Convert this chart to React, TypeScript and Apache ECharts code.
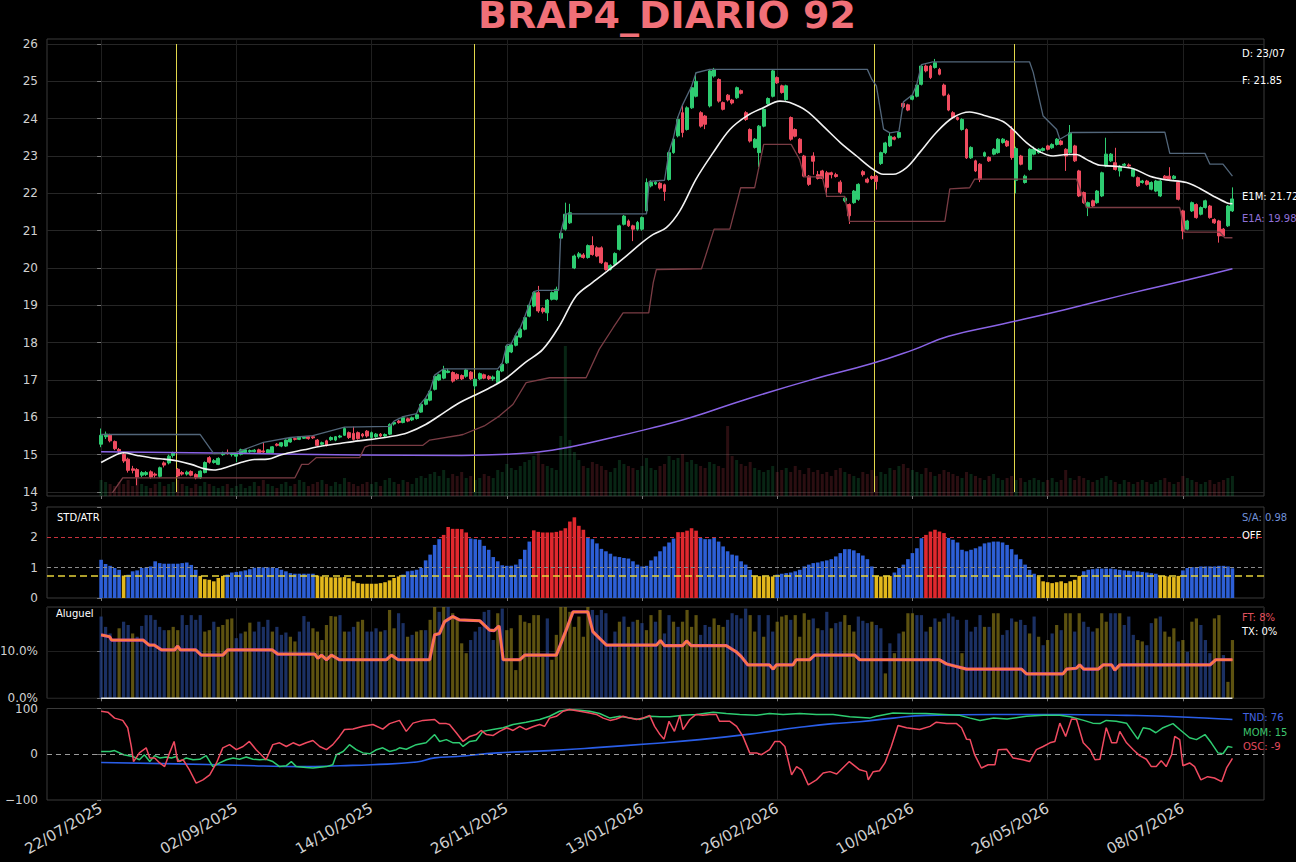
import React, { useEffect, useRef } from "react";
import * as echarts from "echarts";

const FONT = '"DejaVu Sans", "Liberation Sans", sans-serif';

// ---------- x axis (trading-day index) ----------
const tickBars = [0, 30, 60, 90, 120, 150, 180, 210, 240];
const tickDates = ["22/07/2025", "02/09/2025", "14/10/2025", "26/11/2025", "13/01/2026", "26/02/2026", "10/04/2026", "26/05/2026", "08/07/2026"];

// ---------- price panel: [open, close, low, high] ----------
const priceBars = [
  [15.28,15.52,15.20,15.70],[15.48,15.55,15.42,15.62],[15.53,15.37,15.33,15.56],[15.35,15.16,15.12,15.38],[15.14,15.10,15.04,15.18],[15.01,14.83,14.78,15.05],[14.88,14.58,14.52,14.92],[14.62,14.58,14.50,14.70],[14.60,14.40,14.18,14.64],[14.45,14.52,14.40,14.56],
  [14.47,14.52,14.43,14.56],[14.54,14.40,14.36,14.58],[14.48,14.45,14.38,14.52],[14.42,14.65,14.38,14.68],[14.78,14.72,14.66,14.82],[14.78,14.96,14.74,15.00],[14.98,15.04,14.92,15.08],[14.61,14.43,14.40,14.64],[14.52,14.48,14.44,14.56],[14.48,14.53,14.44,14.57],
  [14.55,14.45,14.42,14.58],[14.47,14.38,14.34,14.50],[14.38,14.56,14.35,14.58],[14.52,14.79,14.50,14.82],[14.92,14.80,14.76,14.96],[14.79,14.84,14.76,14.88],[14.74,14.90,14.72,14.93],[15.00,15.04,14.97,15.08],[15.06,15.03,15.00,15.14],[15.00,15.02,14.95,15.06],
  [14.96,15.02,14.80,15.05],[15.01,15.13,14.98,15.16],[15.06,15.13,15.03,15.15],[15.08,15.11,15.05,15.14],[15.08,15.12,15.06,15.15],[15.13,15.05,15.02,15.16],[15.10,15.07,15.03,15.33],[15.04,15.13,15.02,15.15],[15.05,15.21,15.03,15.23],[15.28,15.25,15.22,15.31],
  [15.23,15.32,15.20,15.34],[15.23,15.39,15.21,15.41],[15.34,15.43,15.32,15.46],[15.43,15.41,15.38,15.46],[15.41,15.48,15.39,15.50],[15.44,15.47,15.42,15.50],[15.48,15.43,15.40,15.50],[15.48,15.45,15.42,15.51],[15.39,15.25,15.22,15.42],[15.28,15.32,15.25,15.35],
  [15.37,15.25,15.22,15.40],[15.40,15.46,15.37,15.49],[15.39,15.48,15.36,15.50],[15.47,15.50,15.44,15.53],[15.52,15.70,15.50,15.74],[15.59,15.46,15.42,15.62],[15.57,15.41,15.38,15.75],[15.59,15.43,15.40,15.62],[15.55,15.50,15.46,15.58],[15.63,15.50,15.46,15.66],
  [15.46,15.59,15.43,15.62],[15.48,15.55,15.45,15.58],[15.55,15.50,15.47,15.58],[15.50,15.54,15.47,15.57],[15.55,15.81,15.52,15.84],[15.82,15.86,15.78,15.90],[15.90,15.86,15.83,15.93],[15.86,15.99,15.84,16.02],[15.96,15.90,15.87,15.99],[15.93,15.99,15.90,16.02],
  [15.97,16.07,15.94,16.10],[16.14,16.35,16.12,16.38],[16.35,16.49,16.32,16.52],[16.46,16.70,16.43,16.73],[16.75,17.10,16.72,17.13],[17.00,17.14,16.97,17.17],[17.05,17.27,17.02,17.38],[17.20,17.24,17.18,17.30],[17.20,16.97,16.93,17.23],[17.15,17.03,17.00,17.18],
  [17.12,17.03,17.00,17.15],[17.10,17.27,17.06,17.30],[17.21,17.03,17.00,17.24],[16.84,17.02,16.75,17.05],[17.03,17.17,17.00,17.20],[17.14,17.05,17.02,17.17],[17.10,17.03,17.00,17.13],[17.03,17.08,16.98,17.12],[16.93,17.24,16.90,17.27],[17.24,17.42,17.21,17.45],
  [17.46,17.91,17.43,17.94],[17.75,17.94,17.72,17.97],[17.93,18.18,17.90,18.22],[18.15,18.36,18.12,18.40],[18.36,18.67,18.33,18.70],[18.71,19.00,18.68,19.03],[18.98,19.34,18.95,19.37],[19.34,18.85,18.80,19.52],[18.92,18.83,18.78,18.95],[18.80,19.14,18.58,19.17],
  [19.16,19.34,19.13,19.37],[19.16,19.43,19.13,19.50],[20.80,20.93,20.77,20.97],[21.04,21.44,21.00,21.75],[21.21,21.48,21.18,21.72],[20.00,20.32,19.97,20.36],[20.30,20.38,20.25,20.43],[20.35,20.28,20.25,20.40],[20.28,20.60,20.25,20.63],[20.60,20.36,20.33,20.85],
  [20.54,20.32,20.29,20.58],[20.54,20.14,20.11,20.58],[20.14,19.96,19.93,20.17],[19.96,20.07,19.93,20.10],[20.10,20.39,20.07,20.42],[20.50,21.13,20.47,21.16],[21.17,21.39,21.14,21.42],[21.26,21.13,21.10,21.30],[21.13,21.04,20.72,21.16],[21.04,21.22,21.00,21.26],
  [21.04,21.35,21.00,21.38],[21.53,22.29,21.50,22.40],[22.20,22.29,22.16,22.35],[22.25,22.30,22.22,22.33],[22.27,22.14,22.10,22.30],[22.23,22.05,21.80,22.26],[22.37,23.09,22.34,23.12],[23.09,23.45,23.06,23.50],[23.54,23.98,23.50,24.05],[24.16,23.63,23.50,24.37],
  [23.71,24.29,23.68,24.33],[24.29,24.83,24.26,24.87],[24.60,25.00,24.57,25.23],[24.16,23.80,23.76,24.20],[24.07,23.85,23.72,24.10],[24.34,25.28,24.30,25.32],[25.14,25.32,25.10,25.36],[25.05,24.47,24.43,25.08],[24.43,24.25,24.22,24.46],[24.63,24.50,24.46,24.66],
  [24.50,24.42,24.38,24.53],[24.56,24.83,24.53,24.86],[24.75,24.68,24.65,24.78],[24.16,23.98,23.94,24.20],[23.71,23.40,23.36,23.74],[23.23,23.45,23.20,23.48],[23.09,23.80,22.70,23.83],[23.80,24.25,23.77,24.28],[24.40,24.54,24.37,24.57],[24.60,25.28,24.57,25.32],
  [25.10,24.96,24.93,25.13],[24.88,24.70,24.67,24.91],[24.51,24.88,24.48,24.91],[24.03,23.45,23.41,24.06],[23.71,23.53,23.50,23.74],[23.45,23.09,23.06,23.48],[23.00,22.46,22.43,23.03],[22.46,22.24,22.20,22.49],[23.00,22.86,22.50,23.10],[22.50,22.40,22.37,22.60],
  [22.60,22.40,22.37,22.63],[22.55,22.16,21.90,22.60],[22.55,22.50,22.40,22.58],[22.50,22.45,22.42,22.55],[22.30,22.03,21.98,22.35],[21.80,21.87,21.76,21.90],[21.70,21.40,21.18,21.73],[21.75,22.06,21.72,22.09],[21.84,22.24,21.80,22.27],[22.58,22.50,22.45,22.62],
  [22.38,22.30,22.27,22.42],[22.45,22.40,22.36,22.48],[22.46,22.32,22.10,22.49],[22.80,23.09,22.76,23.12],[23.09,23.35,23.05,23.38],[23.27,23.53,23.24,23.62],[23.50,23.45,23.42,23.53],[23.50,23.63,23.47,23.66],[24.41,24.32,24.28,24.45],[24.37,24.23,24.20,24.40],
  [24.52,24.61,24.49,24.64],[24.60,24.90,24.57,24.93],[24.92,25.41,24.89,25.45],[25.41,25.28,25.24,25.45],[25.41,25.10,25.06,25.44],[25.37,25.50,25.34,25.60],[25.32,25.19,25.16,25.36],[24.90,24.63,24.60,24.94],[24.63,24.23,24.20,24.67],[24.16,24.03,24.00,24.20],
  [24.03,23.98,23.95,24.06],[23.71,23.98,23.68,24.01],[23.71,22.95,22.92,23.74],[22.95,23.23,22.92,23.26],[22.87,22.60,22.57,22.90],[22.78,22.37,22.30,22.81],[23.00,23.09,22.97,23.12],[22.96,22.87,22.84,22.99],[23.05,23.18,23.02,23.21],[23.09,23.45,23.06,23.48],
  [23.36,23.45,23.33,23.48],[23.40,23.27,23.24,23.43],[23.71,22.96,22.90,23.80],[22.35,23.20,22.00,23.25],[23.00,22.78,22.75,23.03],[22.29,22.46,22.26,22.50],[22.64,23.18,22.61,23.21],[23.05,23.18,23.02,23.25],[23.09,23.18,23.06,23.21],[23.15,23.20,23.12,23.23],
  [23.27,23.18,23.15,23.30],[23.22,23.31,23.19,23.34],[23.31,23.45,23.28,23.48],[23.40,23.31,23.28,23.43],[23.18,23.00,22.60,23.21],[23.09,23.62,23.06,23.83],[23.27,22.87,22.84,23.30],[22.60,21.93,21.90,22.63],[22.02,21.75,21.72,22.05],[21.62,21.75,21.39,21.78],
  [21.80,21.66,21.63,21.83],[21.75,22.06,21.72,22.09],[21.93,22.55,21.90,22.58],[22.73,23.05,22.70,23.49],[22.87,23.05,22.84,23.08],[22.82,22.64,22.61,23.22],[22.60,22.73,22.45,22.76],[22.75,22.78,22.72,22.81],[22.76,22.73,22.70,22.80],[22.46,22.64,22.43,22.67],
  [22.42,22.20,22.17,22.45],[22.29,22.33,22.26,22.36],[22.33,22.24,22.21,22.36],[22.11,22.29,22.08,22.32],[22.06,22.33,22.03,22.36],[21.93,22.33,21.90,22.36],[22.46,22.40,22.37,22.49],[22.46,22.38,22.35,22.70],[22.40,22.46,22.37,22.49],[22.29,21.84,21.81,22.32],
  [21.53,20.99,20.77,21.56],[21.04,21.26,21.01,21.29],[21.53,21.75,21.50,21.78],[21.70,21.35,21.32,21.73],[21.44,21.62,21.41,21.65],[21.62,21.80,21.59,21.83],[21.66,21.35,21.32,21.69],[21.30,21.21,21.18,21.33],[21.26,20.86,20.68,21.29],[21.04,20.86,20.83,21.07],
  [21.13,21.66,21.10,21.69],[21.53,21.85,21.50,22.16],
];

const volumes = [
  8,7,6,5,7,6,8,5,9,6, 5,4,6,7,5,6,7,8,6,5, 4,6,5,7,6,5,4,5,6,4,
  5,6,4,5,7,5,8,6,5,4, 6,7,5,6,8,7,5,6,7,8, 6,5,7,6,9,7,6,5,6,7,
  6,7,5,8,9,7,6,8,7,6, 9,10,9,11,12,10,13,9,11,10, 12,9,10,8,9,11,10,9,13,12,
  16,14,13,15,17,18,20,22,16,15, 14,13,30,75,28,22,18,15,14,17, 16,15,13,12,14,18,16,15,14,13,
  15,19,14,13,15,16,20,18,19,21, 17,18,16,15,14,17,16,15,14,35, 20,18,16,15,17,14,13,12,13,15,
  12,13,14,12,15,13,11,14,12,13, 11,12,10,13,14,12,11,10,9,12, 11,13,10,12,11,14,13,15,16,14,
  13,12,11,14,12,10,11,13,12,11, 10,9,12,11,10,9,8,10,11,9, 8,9,10,8,9,7,8,9,8,7,
  8,9,7,8,13,9,8,10,9,8, 7,8,9,10,8,7,6,8,7,6, 7,8,7,6,7,8,9,7,6,7,
  10,9,8,7,6,7,8,6,7,8,9,10,
];

const e1m = [[0,14.79],[2,14.92],[5,15.05],[8,14.98],[12,14.9],[14,14.88],[17,14.83],[20,14.74],[23,14.62],[25,14.59],[28,14.67],[31,14.79],[34,14.87],[37,14.88],[40,15.0],[45,15.13],[49,15.23],[53,15.3],[57,15.37],[60,15.41],[64,15.48],[68,15.59],[72,15.81],[76,16.12],[79.5,16.39],[82.5,16.57],[87,16.84],[90,17.06],[94,17.46],[98,17.82],[101.7,18.45],[105.4,19.25],[109,19.61],[112.8,19.96],[116.5,20.32],[120,20.68],[122.5,20.9],[125.4,21.08],[128.4,21.53],[132,22.38],[135.8,23.09],[139.5,23.71],[143.2,24.07],[146.9,24.29],[150.6,24.47],[152.8,24.43],[156.5,24.21],[160.2,23.8],[164,23.36],[167.6,23.0],[171.3,22.64],[173.5,22.51],[175.7,22.51],[178.7,22.69],[181.6,23.09],[185.3,23.63],[189,24.03],[192.7,24.18],[196.4,24.07],[200,23.93],[202.3,23.71],[205.3,23.36],[208.3,23.11],[211.2,23.0],[214.2,23.04],[216.4,23.04],[218.6,22.91],[221.6,22.75],[224.5,22.73],[229,22.66],[232.7,22.46],[236.4,22.36],[240.8,22.29],[243.8,22.13],[246.7,21.93],[249.7,21.75],[251,21.72]];

const e1a = [[0,15.08],[20,15.05],[40,15.02],[57,14.99],[80,14.98],[90,15.01],[100,15.12],[112,15.42],[124,15.77],[131,16.0],[143,16.48],[158,17.02],[171,17.44],[180,17.8],[188,18.17],[200,18.5],[214,18.89],[229,19.34],[240,19.65],[251,19.98]];

const upperBand = [[0,15.54],[22,15.54],[25,15.03],[30,15.06],[36,15.33],[42,15.46],[47,15.51],[54,15.74],[64,15.76],[65,15.9],[67,16.02],[70,16.1],[71,16.38],[72,16.52],[73,16.73],[74,17.13],[76,17.3],[88,17.3],[89,17.45],[90,17.94],[91,17.97],[92,18.22],[93,18.4],[94,18.7],[95,19.03],[96,19.37],[97,19.4],[101.5,19.4],[102,20.97],[103,21.45],[121,21.45],[121.6,22.32],[125,22.35],[126,23.12],[127,23.5],[128,24.05],[129,24.37],[131,24.87],[132,25.23],[135,25.32],[170,25.32],[171,25.05],[172,24.88],[173.6,23.72],[175,23.62],[177,23.66],[178,24.45],[180,24.64],[181,24.93],[182,25.45],[184.5,25.52],[206,25.52],[206.8,25.24],[209,24.07],[212,23.71],[212.7,23.45],[215.3,23.63],[236,23.64],[237.1,23.07],[244.9,23.07],[246,22.78],[248.9,22.78],[251,22.46]];

const lowerBand = [[2,13.89],[4.8,14.38],[43,14.38],[44.5,14.74],[46,14.74],[47.7,14.92],[57.4,14.92],[58.5,15.2],[59.5,15.25],[71.4,15.25],[72.9,15.39],[79.5,15.52],[80.3,15.54],[85,15.77],[88.4,16.04],[91.4,16.35],[94.3,16.93],[99.5,17.06],[107.6,17.06],[110.5,17.82],[113.6,18.4],[115.8,18.8],[121.5,18.8],[122.5,19.61],[123.2,19.96],[133.2,19.98],[136,21.04],[139.5,21.04],[141.9,22.15],[145,22.15],[147,23.31],[153.1,23.31],[155,22.9],[156,22.44],[160,22.44],[161,21.92],[165,21.92],[166,21.25],[187.2,21.25],[188.3,22.12],[192.7,22.15],[193.8,22.38],[216.4,22.38],[218.6,21.62],[239.3,21.62],[240.4,20.96],[248.2,20.96],[249.3,20.81],[251,20.81]];

const eventBars = [16.6, 82.7, 171.5, 202.6];

// ---------- STD/ATR panel ----------
const stdAtr = [
  1.26,1.12,1.06,0.99,0.93, 0.74,
  0.77,0.88,0.91,0.99,1.01,1.04,1.21,1.15,1.13,1.13,1.13,1.13,1.15,1.17,1.09,0.93,
  0.73,0.62,0.60,0.55,0.66,0.73,
  0.77,0.84,0.86,0.88,0.91,0.95,1.0,1.01,1.01,1.01,1.0,0.99,0.93,0.88,0.82,0.80,0.80,0.80,0.80,0.80,
  0.74,0.71,0.69,0.68,0.68,0.68,0.69,0.65,0.55,0.49,0.47,0.47,0.47,0.47,0.49,0.52,0.58,0.66,0.71,
  0.77,0.88,0.90,0.93,0.99,1.24,1.43,1.75,1.94,
  2.08,2.34,2.28,2.28,2.27,2.16,
  1.96,1.94,1.92,1.72,1.59,1.35,1.21,1.08,1.06,1.06,1.10,1.28,1.59,1.86,
  2.23,2.18,2.16,2.16,2.16,2.18,2.22,2.30,2.52,2.66,2.38,2.25,
  1.98,1.94,1.80,1.62,1.54,1.46,1.37,1.35,1.32,1.30,1.21,1.10,1.04,1.06,1.24,1.37,1.54,1.70,1.83,1.96,
  2.17,2.17,2.22,2.30,2.22,
  1.98,1.94,1.94,1.98,1.86,1.70,1.54,1.43,1.40,1.21,1.10,0.93,
  0.73,0.72,0.72,0.71,0.71,
  0.77,0.80,0.82,0.84,0.88,0.93,1.04,1.10,1.15,1.17,1.21,1.24,1.28,1.37,1.48,1.61,1.61,1.57,1.48,1.40,
  1.28,1.04,
  0.73,0.71,0.73,0.73,
  0.84,0.99,1.10,1.28,1.48,1.64,1.97,
  2.08,2.19,2.25,2.19,2.14,
  1.98,1.92,1.83,1.59,1.54,1.59,1.64,1.70,1.80,1.83,1.86,1.86,1.83,1.75,1.61,1.43,1.28,1.10,0.93,
  0.80,
  0.71,0.55,0.52,0.49,0.52,0.55,0.49,0.55,0.60,0.73,
  0.88,0.93,0.95,0.97,0.97,0.97,0.97,0.95,0.93,0.91,0.90,0.88,0.88,0.86,0.84,0.82,0.80,
  0.73,0.73,0.71,0.69,0.73,
  0.91,0.99,1.02,1.02,1.04,1.04,1.04,1.04,1.06,1.06,1.04,0.98,
];
const STD_HIGH = 2;
const STD_MID = 1;
const STD_LOW = 0.75;

// ---------- Aluguel panel (%) ----------
const aluguel = [
  17.4,15.2,13.8,12.4,14.9,16.3,15.6,13.8,13.1,15.4, 17.7,17.7,16.7,15.2,14.5,14.5,15.2,14.5,17.7,15.6,
  17.7,16.7,17.7,14.2,14.5,16.3,15.2,15.6,16.8,17.0, 12.8,13.8,14.2,16.1,14.2,16.3,15.2,16.7,14.2,15.2,
  13.5,14.0,13.1,12.1,14.2,17.5,16.3,14.9,14.2,12.4, 15.6,17.5,17.4,17.7,14.2,14.2,15.2,16.3,16.7,14.2,
  14.2,14.9,14.2,14.5,18.8,14.9,18.1,16.0,13.1,13.5, 14.2,14.5,14.5,16.7,20,18.4,20,20,18.1,16.7,
  11.7,9.6,12.4,14.2,15.2,18.4,18.8,12.4,18.1,19.1, 14.5,14.9,6.0,17.7,16.3,16.0,17.7,17.7,8.9,17.0,
  8.2,13.5,20,20,18.4,15.2,17.4,13.1,20,18.8, 17.7,18.8,18.1,11.3,14.2,16.3,17.4,15.2,16.3,16.7,
  16.0,14.5,17.7,16.3,18.8,13.8,17.7,16.3,15.2,16.3, 18.8,15.2,17.7,13.5,15.6,15.2,17.0,15.6,15.2,16.7,
  18.1,17.7,17.0,19.1,17.7,14.2,17.7,13.1,17.7,14.2, 16.3,17.4,17.7,16.7,17.7,13.1,18.1,16.7,17.0,14.9,
  14.5,18.4,14.9,16.0,16.3,17.7,15.6,14.2,17.4,16.5, 16.0,16.3,15.6,14.9,5.3,11.7,9.6,13.8,14.2,18.1,
  18.1,17.7,17.7,14.2,15.2,17.0,16.3,17.0,18.1,17.4, 16.7,9.6,16.7,14.2,15.2,17.7,15.2,15.2,18.1,18.1,
  13.5,14.5,17.0,16.3,16.7,15.6,13.8,17.4,13.1,11.3, 12.4,13.8,15.6,14.5,18.1,18.1,14.2,18.1,16.3,15.2,
  14.2,14.9,18.1,16.3,18.1,18.1,18.1,15.6,17.4,13.5, 12.4,12.1,11.3,16.0,17.0,17.4,14.2,13.1,14.9,12.1,
  12.4,9.9,16.3,17.0,15.6,12.4,9.6,17.0,17.7,9.2, 3.5,12.4,
];
// 1 = olive bar, 0 = navy bar
const aluguelOlive = [
  0,0,0,0,1,0,0,1,0,0, 0,0,0,0,0,1,1,1,0,0, 0,0,0,1,1,0,1,1,1,1, 0,0,1,1,0,0,0,0,1,0,
  0,0,1,1,0,0,0,1,1,1, 1,1,1,0,1,0,0,1,1,0, 0,0,1,0,1,1,0,0,1,0, 1,1,0,1,1,0,1,0,1,1,
  1,1,0,0,0,0,0,0,1,0, 1,1,1,1,1,1,1,1,1,0, 1,1,1,1,1,1,1,1,1,0, 0,0,0,0,0,1,0,1,0,1,
  0,1,1,0,1,0,0,1,0,1, 1,1,1,0,0,0,1,1,1,0, 0,0,0,0,1,1,0,1,0,0, 1,1,1,0,1,1,1,1,0,1,
  0,0,1,0,0,1,1,1,0,0, 0,1,0,0,1,0,1,0,1,1, 1,0,0,0,1,0,1,0,0,0, 0,1,0,0,0,0,1,0,1,1,
  0,0,0,1,0,0,1,0,1,0, 1,0,1,0,1,1,0,1,0,0, 0,1,1,1,0,0,1,0,0,0, 1,1,0,0,1,0,1,1,1,0,
  1,0,1,1,0,0,0,1,1,0, 1,1,
];
const ftLine = [[0,13.5],[1.9,13.1],[2.3,12.4],[9.3,12.4],[10.7,11.3],[11.8,11.3],[13.4,10.3],[16.3,10.3],[17,11.1],[17.6,10.3],[21,10.3],[22.2,9.2],[27,9.2],[28.1,10.3],[38,10.3],[39.2,9.4],[47.4,9.4],[48.1,8.5],[48.9,9.2],[50,8.2],[51.1,9.2],[52.9,8.2],[63.3,8.2],[64.4,9.2],[65.9,8.2],[72.9,8.2],[74,13.5],[75.1,13.8],[76.2,16.3],[78,17.4],[79.5,16.7],[84,16.5],[86.2,14.5],[87.2,14.4],[88.3,15.4],[89.2,8.2],[92.9,8.2],[94,9.2],[101,9.2],[102.9,13.8],[104.7,18.4],[108,18.4],[109.1,14.2],[112.1,11.3],[123.2,11.3],[124.1,12.3],[125,11.2],[129,11.2],[129.9,12.2],[130.9,11.2],[138.7,11.2],[140.9,9.9],[142,8.9],[143.5,7.1],[148.3,7.1],[149.1,6.2],[149.8,7.1],[153.5,7.1],[154.2,8.2],[157.2,8.2],[158.3,9.2],[167.2,9.2],[168.3,8.2],[186,8.2],[187.6,7.3],[192,6.2],[204.2,6.2],[205.3,5.2],[213.4,5.2],[214.2,6.2],[216.4,6.4],[217.1,7.1],[218,6.2],[221.2,6.2],[222.3,7.1],[224.2,7.1],[224.9,6.0],[226,7.1],[246,7.1],[247.3,8.2],[251,8.2]];
const txLine = [[0,0],[251,0]];

// ---------- TND / MOM / OSC panel ----------
const tnd = [[0,-18],[17,-21],[30,-24],[45,-27],[53,-25],[60,-23],[70,-17],[74,-8],[79,-5],[88,3],[99.5,8],[110.6,15],[121.7,23],[132.8,32],[143.9,44],[155,59],[162.3,67],[168.3,71],[175.7,79],[183,85],[198,87],[213,87],[227.5,85],[238.6,82],[251,76]];
const mom = [[0,6],[2,6],[3,8],[5,-1],[7,-5],[8.5,-12],[9.6,-1],[10.8,-16],[11.9,-3],[13,-8],[14.5,-6],[15.6,-8],[16.7,-5],[17.4,-16],[18.9,-8],[20.4,-12],[21.9,-11],[23.3,-3],[24.8,-27],[26.3,-19],[27.8,-12],[29.3,-8],[30.7,-11],[32.2,-6],[33.7,-11],[35.2,-12],[36.6,-11],[38.1,-16],[39.6,-27],[41.1,-25],[42.2,-16],[43.3,-27],[45.5,-29],[47,-30],[50,-27],[51.4,-23],[52.2,-1],[53.7,6],[55.1,21],[56.6,10],[58.1,3],[59.6,1],[61.1,10],[62.5,14],[64,6],[65.5,10],[66.2,14],[67.7,11],[69.9,21],[72.1,25],[74,43],[75.1,28],[76.6,32],[78.1,25],[79.5,25],[80.3,17],[81.8,28],[83.2,30],[84.7,50],[86.9,54],[89.2,58],[91.4,65],[94.3,70],[97.3,76],[99.5,83],[101.7,94],[103.9,98],[106.2,96],[108.4,94],[110.6,89],[112.9,79],[115.1,83],[117.3,79],[119.5,76],[121.7,83],[124,82],[126.2,82],[129.1,85],[132.1,87],[135.8,92],[138.7,89],[141.7,87],[145.4,85],[148.3,89],[151.3,87],[155,89],[158.7,87],[162.4,87],[166.1,82],[170.5,79],[172,83],[175.7,90],[179.4,89],[183,89],[187,87],[190.5,85],[192.8,79],[195,74],[198,79],[201,77],[205.3,83],[209,85],[212.7,85],[215,82],[218,74],[220,68],[221.6,67],[223,74],[225.2,72],[227.5,68],[230,33],[231.2,58],[232.7,55],[234,47],[235.6,58],[237.8,67],[239.3,54],[241.5,36],[243,32],[244.9,43],[246.3,25],[247.8,3],[248.9,1],[250,17],[251,15]];
const osc = [[0,94],[1.5,92],[3,79],[4.8,74],[5.9,58],[6.7,17],[7.2,-16],[8.5,3],[10,14],[10.8,-8],[11.9,-8],[13,-19],[14.1,-27],[15.2,3],[16.2,28],[17,-16],[18.2,-12],[19.6,-34],[21.1,-63],[22.6,-56],[24.1,-45],[25.6,-19],[27,14],[28.5,21],[30,10],[31.5,17],[32.9,28],[34.4,10],[35.9,-5],[36.6,-12],[38.1,21],[39.6,25],[41.1,17],[42.6,25],[44,19],[45.5,25],[47,30],[48.5,17],[50,10],[51.4,21],[52.9,39],[54,54],[55.9,55],[58.1,61],[60.3,65],[62.5,55],[64,67],[66.2,74],[67.7,50],[69.2,68],[71.4,74],[74,76],[75.1,67],[76.6,67],[77.3,65],[78.8,47],[80.3,28],[81.8,39],[83.2,43],[84.3,52],[85.5,43],[87,41],[88.4,50],[90,58],[91.4,52],[92.9,61],[94.3,54],[95.8,60],[97.3,65],[98.4,61],[99.5,79],[101,83],[102.5,94],[103.9,98],[106.2,94],[108.4,90],[109.9,87],[111.4,79],[112.9,74],[114.3,77],[115.8,83],[117.3,79],[118.8,76],[120.2,79],[121.7,85],[122.8,61],[124,43],[124.9,33],[126,72],[127.2,50],[128.4,85],[129.1,54],[130.6,76],[132,87],[133.5,85],[135,87],[136.5,87],[137.2,72],[139.5,72],[141,61],[142.4,39],[143.9,3],[145.4,3],[146.5,-1],[148.3,10],[149.5,28],[150.6,28],[151.7,17],[153.2,-45],[154.3,-27],[155.4,-34],[156.9,-67],[158.7,-56],[160.2,-41],[161.7,-38],[163.2,-43],[166,-16],[168.3,-34],[169.8,-38],[170.2,-56],[171.3,-38],[172.7,-36],[173.9,-19],[175.3,17],[176.8,63],[178.7,58],[181.6,54],[183.9,61],[185.3,70],[187.6,67],[189.8,67],[190.9,58],[192,33],[192.8,32],[193.8,-1],[195.3,-30],[196.8,-23],[198.3,-23],[199,10],[200.9,11],[202.3,-8],[204.5,-12],[206,-16],[207.5,10],[209,17],[210.5,25],[211.6,28],[212.7,68],[214,39],[215.3,77],[216.4,76],[217.9,25],[219.4,10],[220.5,-12],[221.6,-11],[223,58],[224.2,25],[225.3,25],[226,50],[227.5,25],[229,10],[230.4,-3],[231.9,-11],[233,-27],[234.1,-27],[235.2,-14],[236.3,-27],[237.5,-1],[238.2,39],[239.3,32],[240,-25],[241.5,-19],[242.6,-27],[244,-56],[245.5,-49],[247,-52],[248.6,-60],[249.7,-30],[251,-9]];

// ---------- colours ----------
const GREEN = "#2ecc71";
const RED = "#ef4b5f";
const FRAME = "#3a3a3a";
const GRIDLINE = "#262626";
const LABEL = "#d0d0d0";

export default function App() {
  const ref = useRef<HTMLDivElement>(null);

  useEffect(() => {
    document.body.style.margin = "0";
    document.body.style.background = "#000";
    const chart = echarts.init(ref.current as HTMLDivElement, null, { renderer: "svg" });

    const L = 47;
    const R = 32;
    const gridBase = { left: L, right: R, outerBoundsMode: "none", containLabel: false };

    const xAxis = (gridIndex: number, opts: any) => ({
      type: "value",
      gridIndex,
      min: -12,
      max: 258,
      axisLine: { show: false },
      axisTick: { show: true, customValues: tickBars, length: 3, lineStyle: { color: "#777" } },
      axisLabel: { show: false },
      splitLine: { show: true, lineStyle: { color: "#1f1f1f", width: 1 } },
      ...opts,
    });

    const yLabel = { color: LABEL, fontSize: 12, fontFamily: FONT, margin: 9 };
    const yTick = { show: true, length: 4, lineStyle: { color: "#777" } };

    const candleData = priceBars.map((b, i) => [i, b[0], b[1], b[2], b[3]]);
    const volumeData = volumes.map((v, i) => ({
      value: [i, v],
      itemStyle: { color: priceBars[i][1] >= priceBars[i][0] ? "rgba(46,204,113,0.18)" : "rgba(239,75,95,0.18)" },
    }));
    const stdData = stdAtr.map((v, i) => [i, v]);
    const aluguelData = aluguel.map((v, i) => ({
      value: [i, v],
      itemStyle: { color: aluguelOlive[i] ? "rgba(150,132,26,0.62)" : "rgba(44,78,160,0.62)" },
    }));

    const txt = (x: number, y: number, text: string, fill: string, size = 10) => ({
      type: "text",
      x,
      y,
      z: 100,
      style: { text, fill, fontSize: size, fontFamily: FONT, align: "left", verticalAlign: "middle" },
    });

    const option: any = {
      animation: false,
      backgroundColor: "#000000",
      grid: [
        { ...gridBase, top: 44, height: 448 },
        { ...gridBase, top: 39, height: 457, show: true, borderColor: FRAME, borderWidth: 1, backgroundColor: "transparent" },
        { ...gridBase, top: 507, height: 91, show: true, borderColor: FRAME, borderWidth: 1, backgroundColor: "transparent" },
        { ...gridBase, top: 607, height: 91.3, show: true, borderColor: FRAME, borderWidth: 1, backgroundColor: "transparent" },
        { ...gridBase, top: 708.5, height: 91.5, show: true, borderColor: FRAME, borderWidth: 1, backgroundColor: "transparent" },
      ],
      xAxis: [
        xAxis(0, { show: false }),
        xAxis(1, {}),
        xAxis(2, {}),
        xAxis(3, {}),
        xAxis(4, {
          axisLabel: {
            show: true,
            customValues: tickBars,
            formatter: (v: number) => {
              const k = tickBars.indexOf(Math.round(v));
              return k >= 0 ? tickDates[k] : "";
            },
            rotate: 30,
            color: LABEL,
            fontSize: 15,
            fontFamily: FONT,
            margin: 7,
          },
        }),
      ],
      yAxis: [
        { type: "value", gridIndex: 0, min: 14, max: 26, interval: 1, axisLine: { show: false }, axisTick: yTick, axisLabel: yLabel, splitLine: { show: true, lineStyle: { color: GRIDLINE } } },
        { type: "value", gridIndex: 1, min: 0, max: 228.5, show: false },
        { type: "value", gridIndex: 2, min: 0, max: 3, interval: 1, axisLine: { show: false }, axisTick: yTick, axisLabel: yLabel, splitLine: { show: false } },
        {
          type: "value", gridIndex: 3, min: 0, max: 19.43, interval: 10, axisLine: { show: false }, axisTick: yTick,
          axisLabel: { ...yLabel, showMaxLabel: false, formatter: (v: number) => (Math.abs(v % 10) < 1e-6 ? v.toFixed(1) + "%" : "") },
          splitLine: { show: true, lineStyle: { color: "#1f1f1f" } },
        },
        {
          type: "value", gridIndex: 4, min: -100, max: 100, interval: 100, axisLine: { show: false }, axisTick: yTick,
          axisLabel: { ...yLabel, formatter: (v: number) => (v < 0 ? "\u2212" + Math.abs(v) : String(v)) },
          splitLine: { show: false },
        },
      ],
      series: [
        {
          type: "bar", name: "Volume", xAxisIndex: 1, yAxisIndex: 1, data: volumeData, barWidth: 3, z: 1, silent: true,
        },
        {
          type: "candlestick", name: "Preço", xAxisIndex: 0, yAxisIndex: 0, data: candleData, barWidth: 3.4, z: 3,
          itemStyle: { color: GREEN, color0: RED, borderColor: GREEN, borderColor0: RED, borderWidth: 1 },
          markLine: {
            silent: true, symbol: ["none", "none"], label: { show: false }, z: 2,
            lineStyle: { color: "#e1d64a", width: 1, type: "solid" },
            data: eventBars.map((x) => ({ xAxis: x })),
          },
        },
        { type: "line", name: "E1A", xAxisIndex: 0, yAxisIndex: 0, data: e1a, symbol: "none", smooth: true, z: 4, lineStyle: { color: "#8a64e6", width: 1.5 } },
        { type: "line", name: "Topo", xAxisIndex: 0, yAxisIndex: 0, data: upperBand, symbol: "none", z: 4, lineStyle: { color: "#52667a", width: 1.3 } },
        { type: "line", name: "Fundo", xAxisIndex: 0, yAxisIndex: 0, data: lowerBand, symbol: "none", z: 4, lineStyle: { color: "#7a3c44", width: 1.3 } },
        { type: "line", name: "E1M", xAxisIndex: 0, yAxisIndex: 0, data: e1m, symbol: "none", smooth: 0.35, z: 5, lineStyle: { color: "#f2f2f2", width: 1.6 } },
        {
          type: "bar", name: "STD/ATR", xAxisIndex: 2, yAxisIndex: 2, data: stdData, barWidth: 3.6,
          itemStyle: {
            color: (p: any) => {
              const v = p.value[1];
              return v > STD_HIGH ? "#e0282e" : v < STD_LOW ? "#e3b81c" : "#2d5fd6";
            },
          },
          markLine: {
            silent: true, symbol: ["none", "none"], label: { show: false }, z: 5,
            data: [
              { yAxis: STD_HIGH, lineStyle: { color: "#c8323c", type: [4, 3], width: 1 } },
              { yAxis: STD_MID, lineStyle: { color: "#8a8a8a", type: [4, 3], width: 1 } },
              { yAxis: STD_LOW, lineStyle: { color: "#e6d23a", type: [7, 4], width: 1.5 } },
            ],
          },
        },
        { type: "bar", name: "Aluguel", xAxisIndex: 3, yAxisIndex: 3, data: aluguelData, barWidth: 3.2, z: 1 },
        { type: "line", name: "FT-glow", xAxisIndex: 3, yAxisIndex: 3, data: ftLine, symbol: "none", z: 4, lineStyle: { color: "#e0568c", width: 3.2 } },
        { type: "line", name: "FT", xAxisIndex: 3, yAxisIndex: 3, data: ftLine, symbol: "none", z: 5, lineStyle: { color: "#ff7a3c", width: 1.8 } },
        { type: "line", name: "TX", xAxisIndex: 3, yAxisIndex: 3, data: txLine, symbol: "none", z: 5, clip: false, lineStyle: { color: "#e8e8e8", width: 1.5 } },
        {
          type: "line", name: "TND", xAxisIndex: 4, yAxisIndex: 4, data: tnd, symbol: "none", smooth: true, z: 3, lineStyle: { color: "#2a5ee8", width: 1.6 },
          markLine: {
            silent: true, symbol: ["none", "none"], label: { show: false },
            data: [{ yAxis: 0, lineStyle: { color: "#9a9a9a", type: [5, 4], width: 1 } }],
          },
        },
        { type: "line", name: "MOM", xAxisIndex: 4, yAxisIndex: 4, data: mom, symbol: "none", z: 4, lineStyle: { color: "#2ecc71", width: 1.5 } },
        { type: "line", name: "OSC", xAxisIndex: 4, yAxisIndex: 4, data: osc, symbol: "none", z: 5, lineStyle: { color: "#f04a60", width: 1.5 } },
      ],
      graphic: [
        {
          type: "text", x: 667, y: 15, z: 100,
          style: { text: "BRAP4_DIARIO 92", fill: "#f07078", fontSize: 38, fontWeight: "bold", fontFamily: FONT, align: "center", verticalAlign: "middle" },
        },
        txt(1242, 53, "D: 23/07", "#ffffff"),
        txt(1242, 80, "F: 21.85", "#ffffff"),
        txt(1242, 196, "E1M: 21.72", "#ffffff"),
        txt(1242, 218, "E1A: 19.98", "#8f70d8"),
        txt(57, 517, "STD/ATR", "#ffffff"),
        txt(1242, 517, "S/A: 0.98", "#7090d8"),
        txt(1242, 535, "OFF", "#ffffff"),
        txt(56, 613, "Aluguel", "#ffffff"),
        txt(1242, 617, "FT: 8%", "#e0505e"),
        txt(1242, 631, "TX: 0%", "#ffffff"),
        txt(1243, 717, "TND: 76", "#4564e0"),
        txt(1243, 732, "MOM: 15", "#3ec46d"),
        txt(1243, 746, "OSC: -9", "#e04a5e"),
      ],
    };

    chart.setOption(option);
    return () => chart.dispose();
  }, []);

  return <div ref={ref} style={{ width: 1296, height: 862 }} />;
}
